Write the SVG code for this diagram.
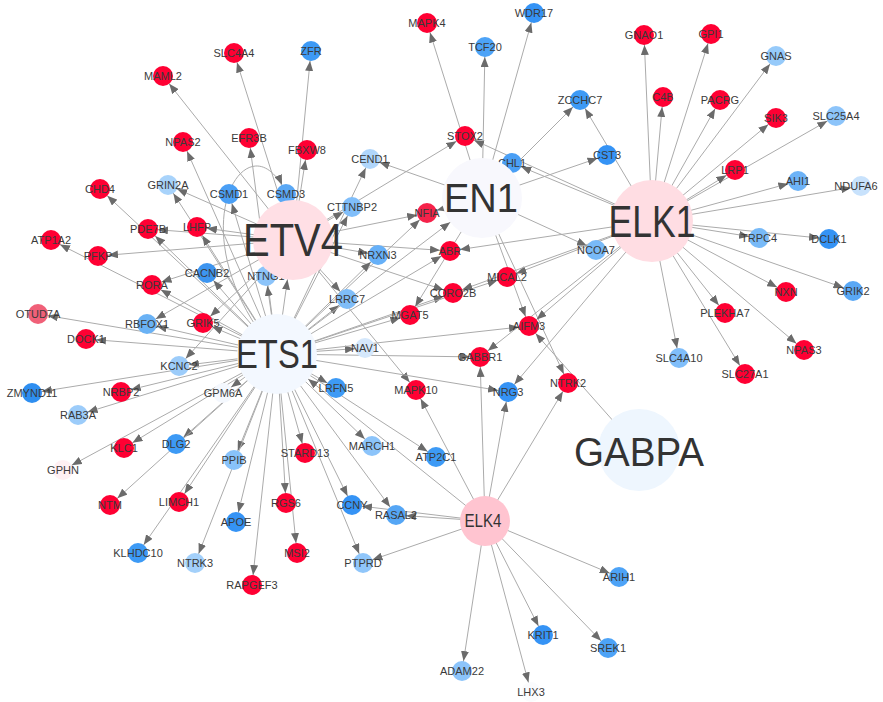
<svg xmlns="http://www.w3.org/2000/svg" width="883" height="702" viewBox="0 0 883 702">
<style>
.e{stroke:#ababab;stroke-width:1;fill:none;marker-end:url(#a)}
.eh{stroke:#ababab;stroke-width:1;fill:none;marker-end:url(#ah)}
.r{fill:#ff0033}
text{font-family:"Liberation Sans",Arial,sans-serif;fill:#3a3a3a;text-anchor:middle;dominant-baseline:central}
.l{font-size:11px}
.h{fill:#333}
</style>
<defs>
<marker id="a" markerUnits="userSpaceOnUse" markerWidth="10" markerHeight="8" refX="20" refY="4" orient="auto"><path d="M0,0 L10,4 L0,8 Z" fill="#6b6b6b"/></marker>
<marker id="ah" markerUnits="userSpaceOnUse" markerWidth="10" markerHeight="8" refX="50" refY="4" orient="auto"><path d="M0,0 L10,4 L0,8 Z" fill="#6b6b6b"/></marker>
</defs>
<rect width="883" height="702" fill="#fff"/>
<g id="edges">
<!-- ETV4 -->
<line class="e" x1="293" y1="240" x2="163" y2="76"/>
<line class="e" x1="293" y1="240" x2="234" y2="53"/>
<line class="e" x1="293" y1="240" x2="307" y2="150"/>
<line class="e" x1="293" y1="240" x2="311" y2="51"/>
<line class="e" x1="293" y1="240" x2="168" y2="185"/>
<line class="e" x1="293" y1="240" x2="197" y2="227"/>
<line class="e" x1="293" y1="240" x2="148" y2="229"/>
<line class="e" x1="293" y1="240" x2="98" y2="256"/>
<line class="e" x1="293" y1="240" x2="152" y2="285"/>
<line class="e" x1="293" y1="240" x2="147" y2="324"/>
<line class="e" x1="293" y1="240" x2="203" y2="323"/>
<line class="e" x1="293" y1="240" x2="179" y2="366"/>
<line class="e" x1="293" y1="240" x2="465" y2="136"/>
<line class="e" x1="293" y1="240" x2="352" y2="207"/>
<line class="e" x1="293" y1="240" x2="427" y2="213"/>
<line class="e" x1="293" y1="240" x2="378" y2="255"/>
<line class="e" x1="293" y1="240" x2="450" y2="251"/>
<line class="e" x1="293" y1="240" x2="453" y2="293"/>
<line class="e" x1="293" y1="240" x2="347" y2="299"/>
<line class="e" x1="293" y1="240" x2="416" y2="390"/>
<!-- ETS1 -->
<line class="e" x1="277" y1="354" x2="183" y2="142"/>
<line class="e" x1="277" y1="354" x2="249" y2="138"/>
<line class="e" x1="277" y1="354" x2="100" y2="189"/>
<line class="e" x1="277" y1="354" x2="168" y2="185"/>
<line class="e" x1="277" y1="354" x2="229" y2="194"/>
<line class="e" x1="277" y1="354" x2="197" y2="227"/>
<line class="e" x1="277" y1="354" x2="148" y2="229"/>
<line class="e" x1="277" y1="354" x2="51" y2="240"/>
<line class="e" x1="277" y1="354" x2="152" y2="285"/>
<line class="e" x1="277" y1="354" x2="207" y2="273"/>
<line class="e" x1="277" y1="354" x2="147" y2="324"/>
<line class="e" x1="277" y1="354" x2="203" y2="323"/>
<line class="e" x1="277" y1="354" x2="38" y2="314"/>
<line class="e" x1="277" y1="354" x2="86" y2="339"/>
<line class="e" x1="277" y1="354" x2="266" y2="276"/>
<line class="e" x1="277" y1="354" x2="179" y2="366"/>
<line class="e" x1="277" y1="354" x2="32" y2="393"/>
<line class="e" x1="277" y1="354" x2="121" y2="392"/>
<line class="e" x1="277" y1="354" x2="78" y2="415"/>
<line class="e" x1="277" y1="354" x2="223" y2="393"/>
<line class="e" x1="277" y1="354" x2="63" y2="470"/>
<line class="e" x1="277" y1="354" x2="124" y2="448"/>
<line class="e" x1="277" y1="354" x2="176" y2="444"/>
<line class="e" x1="277" y1="354" x2="110" y2="505"/>
<line class="e" x1="277" y1="354" x2="179" y2="502"/>
<line class="e" x1="277" y1="354" x2="234" y2="460"/>
<line class="e" x1="277" y1="354" x2="236" y2="522"/>
<line class="e" x1="277" y1="354" x2="286" y2="503"/>
<line class="e" x1="277" y1="354" x2="305" y2="453"/>
<line class="e" x1="277" y1="354" x2="138" y2="553"/>
<line class="e" x1="277" y1="354" x2="195" y2="563"/>
<line class="e" x1="277" y1="354" x2="252" y2="585"/>
<line class="e" x1="277" y1="354" x2="297" y2="553"/>
<line class="e" x1="277" y1="354" x2="336" y2="388"/>
<line class="e" x1="277" y1="354" x2="365" y2="348"/>
<line class="e" x1="277" y1="354" x2="480" y2="357"/>
<line class="e" x1="277" y1="354" x2="508" y2="392"/>
<line class="e" x1="277" y1="354" x2="372" y2="446"/>
<line class="e" x1="277" y1="354" x2="436" y2="457"/>
<line class="e" x1="277" y1="354" x2="352" y2="505"/>
<line class="e" x1="277" y1="354" x2="396" y2="515"/>
<line class="e" x1="277" y1="354" x2="363" y2="563"/>
<line class="e" x1="277" y1="354" x2="410" y2="315"/>
<line class="e" x1="277" y1="354" x2="453" y2="293"/>
<line class="e" x1="277" y1="354" x2="507" y2="277"/>
<line class="e" x1="277" y1="354" x2="529" y2="326"/>
<line class="e" x1="277" y1="354" x2="450" y2="251"/>
<line class="e" x1="277" y1="354" x2="427" y2="213"/>
<line class="e" x1="277" y1="354" x2="378" y2="255"/>
<line class="e" x1="277" y1="354" x2="352" y2="207"/>
<line class="e" x1="277" y1="354" x2="347" y2="299"/>
<line class="e" x1="277" y1="354" x2="370" y2="159"/>
<line class="eh" x1="277" y1="354" x2="293" y2="240"/>
<line class="eh" x1="277" y1="354" x2="482" y2="198"/>
<path class="e" d="M277,354 C170,230 250,110 286,194"/>
<!-- EN1 -->
<line class="e" x1="482" y1="198" x2="427" y2="23"/>
<line class="e" x1="482" y1="198" x2="485" y2="47"/>
<line class="e" x1="482" y1="198" x2="534" y2="13"/>
<line class="e" x1="482" y1="198" x2="580" y2="100"/>
<line class="e" x1="482" y1="198" x2="607" y2="155"/>
<line class="e" x1="482" y1="198" x2="370" y2="159"/>
<line class="e" x1="482" y1="198" x2="427" y2="213"/>
<line class="e" x1="482" y1="198" x2="410" y2="315"/>
<line class="e" x1="482" y1="198" x2="529" y2="326"/>
<line class="e" x1="482" y1="198" x2="568" y2="383"/>
<line class="e" x1="482" y1="198" x2="596" y2="250"/>
<!-- ELK1 -->
<line class="e" x1="652" y1="221" x2="580" y2="100"/>
<line class="e" x1="652" y1="221" x2="512" y2="163"/>
<line class="e" x1="652" y1="221" x2="465" y2="136"/>
<line class="e" x1="652" y1="221" x2="644" y2="35"/>
<line class="e" x1="652" y1="221" x2="663" y2="97"/>
<line class="e" x1="652" y1="221" x2="711" y2="34"/>
<line class="e" x1="652" y1="221" x2="720" y2="100"/>
<line class="e" x1="652" y1="221" x2="776" y2="56"/>
<line class="e" x1="652" y1="221" x2="776" y2="118"/>
<line class="e" x1="652" y1="221" x2="836" y2="116"/>
<line class="e" x1="652" y1="221" x2="735" y2="170"/>
<line class="e" x1="652" y1="221" x2="798" y2="181"/>
<line class="e" x1="652" y1="221" x2="861" y2="186"/>
<line class="e" x1="652" y1="221" x2="759" y2="238"/>
<line class="e" x1="652" y1="221" x2="829" y2="239"/>
<line class="e" x1="652" y1="221" x2="853" y2="291"/>
<line class="e" x1="652" y1="221" x2="786" y2="292"/>
<line class="e" x1="652" y1="221" x2="725" y2="313"/>
<line class="e" x1="652" y1="221" x2="804" y2="350"/>
<line class="e" x1="652" y1="221" x2="745" y2="374"/>
<line class="e" x1="652" y1="221" x2="679" y2="358"/>
<line class="e" x1="652" y1="221" x2="450" y2="251"/>
<line class="e" x1="652" y1="221" x2="507" y2="277"/>
<line class="e" x1="652" y1="221" x2="453" y2="293"/>
<line class="e" x1="652" y1="221" x2="529" y2="326"/>
<line class="e" x1="652" y1="221" x2="480" y2="357"/>
<line class="e" x1="652" y1="221" x2="508" y2="392"/>
<!-- ELK4 -->
<line class="e" x1="485" y1="521" x2="480" y2="357"/>
<line class="e" x1="485" y1="521" x2="508" y2="392"/>
<line class="e" x1="485" y1="521" x2="568" y2="383"/>
<line class="e" x1="485" y1="521" x2="416" y2="390"/>
<line class="e" x1="485" y1="521" x2="352" y2="505"/>
<line class="e" x1="485" y1="521" x2="396" y2="515"/>
<line class="e" x1="485" y1="521" x2="363" y2="563"/>
<line class="e" x1="485" y1="521" x2="462" y2="671"/>
<line class="e" x1="485" y1="521" x2="531" y2="692"/>
<line class="e" x1="485" y1="521" x2="543" y2="635"/>
<line class="e" x1="485" y1="521" x2="608" y2="648"/>
<line class="e" x1="485" y1="521" x2="619" y2="577"/>
<line class="eh" x1="485" y1="521" x2="277" y2="354"/>
<!-- GABPA -->
<line class="e" x1="639" y1="450" x2="529" y2="326"/>
</g>
<g id="nodes">
<g id="n-SLC4A4"><circle class="r" cx="234" cy="53" r="10"/><text class="l" x="234" y="53">SLC4A4</text></g>
<g id="n-MAML2"><circle class="r" cx="163" cy="76" r="10"/><text class="l" x="163" y="76">MAML2</text></g>
<g id="n-NPAS2"><circle class="r" cx="183" cy="142" r="10"/><text class="l" x="183" y="142">NPAS2</text></g>
<g id="n-EFR3B"><circle class="r" cx="249" cy="138" r="10"/><text class="l" x="249" y="138">EFR3B</text></g>
<g id="n-ZFR"><circle fill="#3d9af5" cx="311" cy="51" r="10"/><text class="l" x="311" y="51">ZFR</text></g>
<g id="n-FBXW8"><circle class="r" cx="307" cy="150" r="10"/><text class="l" x="307" y="150">FBXW8</text></g>
<g id="n-MAPK4"><circle class="r" cx="427" cy="23" r="10"/><text class="l" x="427" y="23">MAPK4</text></g>
<g id="n-WDR17"><circle fill="#3593f5" cx="534" cy="13" r="10"/><text class="l" x="534" y="13">WDR17</text></g>
<g id="n-TCF20"><circle fill="#4da3f7" cx="485" cy="47" r="10"/><text class="l" x="485" y="47">TCF20</text></g>
<g id="n-ZCCHC7"><circle fill="#3d9af5" cx="580" cy="100" r="10"/><text class="l" x="580" y="100">ZCCHC7</text></g>
<g id="n-STOX2"><circle class="r" cx="465" cy="136" r="10"/><text class="l" x="465" y="136">STOX2</text></g>
<g id="n-CEND1"><circle fill="#b0d6fb" cx="370" cy="159" r="10"/><text class="l" x="370" y="159">CEND1</text></g>
<g id="n-CHL1"><circle fill="#4a9ff5" cx="512" cy="163" r="10"/><text class="l" x="512" y="163">CHL1</text></g>
<g id="n-GNAO1"><circle class="r" cx="644" cy="35" r="10"/><text class="l" x="644" y="35">GNAO1</text></g>
<g id="n-GPI1"><circle class="r" cx="711" cy="34" r="10"/><text class="l" x="711" y="34">GPI1</text></g>
<g id="n-GNAS"><circle fill="#96cafa" cx="776" cy="56" r="10"/><text class="l" x="776" y="56">GNAS</text></g>
<g id="n-C4B"><circle class="r" cx="663" cy="97" r="10"/><text class="l" x="663" y="97">C4B</text></g>
<g id="n-PACRG"><circle class="r" cx="720" cy="100" r="10"/><text class="l" x="720" y="100">PACRG</text></g>
<g id="n-SIK3"><circle class="r" cx="776" cy="118" r="10"/><text class="l" x="776" y="118">SIK3</text></g>
<g id="n-SLC25A4"><circle fill="#8cc4fa" cx="836" cy="116" r="10"/><text class="l" x="836" y="116">SLC25A4</text></g>
<g id="n-CST3"><circle fill="#3593f5" cx="607" cy="155" r="10"/><text class="l" x="607" y="155">CST3</text></g>
<g id="n-LRP1"><circle class="r" cx="735" cy="170" r="10"/><text class="l" x="735" y="170">LRP1</text></g>
<g id="n-AHI1"><circle fill="#6db3f8" cx="798" cy="181" r="10"/><text class="l" x="798" y="181">AHI1</text></g>
<g id="n-NDUFA6"><circle fill="#c8e2fc" cx="861" cy="186" r="10"/><text class="l" x="856" y="186">NDUFA6</text></g>
<g id="n-TRPC4"><circle fill="#78baf8" cx="759" cy="238" r="10"/><text class="l" x="759" y="238">TRPC4</text></g>
<g id="n-DCLK1"><circle fill="#3593f5" cx="829" cy="239" r="10"/><text class="l" x="829" y="239">DCLK1</text></g>
<g id="n-NCOA7"><circle fill="#78baf8" cx="596" cy="250" r="10"/><text class="l" x="596" y="250">NCOA7</text></g>
<g id="n-GRIK2"><circle fill="#5aa8f5" cx="853" cy="291" r="10"/><text class="l" x="853" y="291">GRIK2</text></g>
<g id="n-NXN"><circle class="r" cx="786" cy="292" r="10"/><text class="l" x="786" y="292">NXN</text></g>
<g id="n-PLEKHA7"><circle class="r" cx="725" cy="313" r="10"/><text class="l" x="725" y="313">PLEKHA7</text></g>
<g id="n-NPAS3"><circle class="r" cx="804" cy="350" r="10"/><text class="l" x="804" y="350">NPAS3</text></g>
<g id="n-SLC4A10"><circle fill="#80befa" cx="679" cy="358" r="10"/><text class="l" x="679" y="358">SLC4A10</text></g>
<g id="n-SLC27A1"><circle class="r" cx="745" cy="374" r="10"/><text class="l" x="745" y="374">SLC27A1</text></g>
<g id="n-CHD4"><circle class="r" cx="100" cy="189" r="10"/><text class="l" x="100" y="189">CHD4</text></g>
<g id="n-GRIN2A"><circle fill="#a8d3fb" cx="168" cy="185" r="10"/><text class="l" x="168" y="185">GRIN2A</text></g>
<g id="n-CSMD1"><circle fill="#4a9ff5" cx="229" cy="194" r="10"/><text class="l" x="229" y="194">CSMD1</text></g>
<g id="n-CSMD3"><circle fill="#5aa8f5" cx="286" cy="194" r="10"/><text class="l" x="286" y="194">CSMD3</text></g>
<g id="n-PDE7B"><circle class="r" cx="148" cy="229" r="10"/><text class="l" x="148" y="229">PDE7B</text></g>
<g id="n-LHFP"><circle class="r" cx="197" cy="227" r="10"/><text class="l" x="197" y="227">LHFP</text></g>
<g id="n-ATP1A2"><circle class="r" cx="51" cy="240" r="10"/><text class="l" x="51" y="240">ATP1A2</text></g>
<g id="n-PFKP"><circle class="r" cx="98" cy="256" r="10"/><text class="l" x="98" y="256">PFKP</text></g>
<g id="n-CACNB2"><circle fill="#3d95f0" cx="207" cy="273" r="10"/><text class="l" x="207" y="273">CACNB2</text></g>
<g id="n-NTNG1"><circle fill="#8cc4fa" cx="266" cy="276" r="10"/><text class="l" x="266" y="276">NTNG1</text></g>
<g id="n-RORA"><circle class="r" cx="152" cy="285" r="10"/><text class="l" x="152" y="285">RORA</text></g>
<g id="n-OTUD7A"><circle fill="#f06078" cx="38" cy="314" r="10"/><text class="l" x="38" y="314">OTUD7A</text></g>
<g id="n-RBFOX1"><circle fill="#6ab2f5" cx="147" cy="324" r="10"/><text class="l" x="147" y="324">RBFOX1</text></g>
<g id="n-GRIK5"><circle class="r" cx="203" cy="323" r="10"/><text class="l" x="203" y="323">GRIK5</text></g>
<g id="n-DOCK1"><circle class="r" cx="86" cy="339" r="10"/><text class="l" x="86" y="339">DOCK1</text></g>
<g id="n-CTTNBP2"><circle fill="#80befa" cx="352" cy="207" r="10"/><text class="l" x="352" y="207">CTTNBP2</text></g>
<g id="n-NFIA"><circle fill="#f5224a" cx="427" cy="213" r="10"/><text class="l" x="427" y="213">NFIA</text></g>
<g id="n-ABR"><circle class="r" cx="450" cy="251" r="10"/><text class="l" x="450" y="251">ABR</text></g>
<g id="n-NRXN3"><circle fill="#66b0f8" cx="378" cy="255" r="10"/><text class="l" x="378" y="255">NRXN3</text></g>
<g id="n-MICAL2"><circle class="r" cx="507" cy="277" r="10"/><text class="l" x="507" y="277">MICAL2</text></g>
<g id="n-CORO2B"><circle class="r" cx="453" cy="293" r="10"/><text class="l" x="453" y="293">CORO2B</text></g>
<g id="n-LRRC7"><circle fill="#7fbdf8" cx="347" cy="299" r="10"/><text class="l" x="347" y="299">LRRC7</text></g>
<g id="n-MGAT5"><circle class="r" cx="410" cy="315" r="10"/><text class="l" x="410" y="315">MGAT5</text></g>
<g id="n-AIFM3"><circle class="r" cx="529" cy="326" r="10"/><text class="l" x="529" y="326">AIFM3</text></g>
<g id="n-NAV1"><circle fill="#d5e8fc" cx="365" cy="348" r="10"/><text class="l" x="365" y="348">NAV1</text></g>
<g id="n-GABBR1"><circle class="r" cx="480" cy="357" r="10"/><text class="l" x="480" y="357">GABBR1</text></g>
<g id="n-NRG3"><circle fill="#3593f5" cx="508" cy="392" r="10"/><text class="l" x="508" y="392">NRG3</text></g>
<g id="n-NTRK2"><circle class="r" cx="568" cy="383" r="10"/><text class="l" x="568" y="383">NTRK2</text></g>
<g id="n-LRFN5"><circle fill="#3d9af5" cx="336" cy="388" r="10"/><text class="l" x="336" y="388">LRFN5</text></g>
<g id="n-MAPK10"><circle class="r" cx="416" cy="390" r="10"/><text class="l" x="416" y="390">MAPK10</text></g>
<g id="n-MARCH1"><circle fill="#8cc4fa" cx="372" cy="446" r="10"/><text class="l" x="372" y="446">MARCH1</text></g>
<g id="n-ATP2C1"><circle fill="#3d9af5" cx="436" cy="457" r="10"/><text class="l" x="436" y="457">ATP2C1</text></g>
<g id="n-STARD13"><circle class="r" cx="305" cy="453" r="10"/><text class="l" x="305" y="453">STARD13</text></g>
<g id="n-CCNY"><circle fill="#3593f5" cx="352" cy="505" r="10"/><text class="l" x="352" y="505">CCNY</text></g>
<g id="n-RASAL2"><circle fill="#55a6f5" cx="396" cy="515" r="10"/><text class="l" x="396" y="515">RASAL2</text></g>
<g id="n-KCNC2"><circle fill="#9cccfa" cx="179" cy="366" r="10"/><text class="l" x="179" y="366">KCNC2</text></g>
<g id="n-ZMYND11"><circle fill="#2e8ef0" cx="32" cy="393" r="10"/><text class="l" x="32" y="393">ZMYND11</text></g>
<g id="n-NRBP2"><circle class="r" cx="121" cy="392" r="10"/><text class="l" x="121" y="392">NRBP2</text></g>
<g id="n-GPM6A"><circle fill="#f4f8fe" cx="223" cy="393" r="10"/><text class="l" x="223" y="393">GPM6A</text></g>
<g id="n-RAB3A"><circle fill="#9cccfa" cx="78" cy="415" r="10"/><text class="l" x="78" y="415">RAB3A</text></g>
<g id="n-KLC1"><circle class="r" cx="124" cy="448" r="10"/><text class="l" x="124" y="448">KLC1</text></g>
<g id="n-DLG2"><circle fill="#3d9af5" cx="176" cy="444" r="10"/><text class="l" x="176" y="444">DLG2</text></g>
<g id="n-GPHN"><circle fill="#fff0f3" cx="63" cy="470" r="10"/><text class="l" x="63" y="470">GPHN</text></g>
<g id="n-PPIB"><circle fill="#88c2fa" cx="234" cy="460" r="10"/><text class="l" x="234" y="460">PPIB</text></g>
<g id="n-NTM"><circle class="r" cx="110" cy="505" r="10"/><text class="l" x="110" y="505">NTM</text></g>
<g id="n-LIMCH1"><circle class="r" cx="179" cy="502" r="10"/><text class="l" x="179" y="502">LIMCH1</text></g>
<g id="n-RGS6"><circle class="r" cx="286" cy="503" r="10"/><text class="l" x="286" y="503">RGS6</text></g>
<g id="n-APOE"><circle fill="#3593f5" cx="236" cy="522" r="10"/><text class="l" x="236" y="522">APOE</text></g>
<g id="n-KLHDC10"><circle fill="#3d9af5" cx="138" cy="553" r="10"/><text class="l" x="138" y="553">KLHDC10</text></g>
<g id="n-NTRK3"><circle fill="#a3d0fa" cx="195" cy="563" r="10"/><text class="l" x="195" y="563">NTRK3</text></g>
<g id="n-RAPGEF3"><circle class="r" cx="252" cy="585" r="10"/><text class="l" x="252" y="585">RAPGEF3</text></g>
<g id="n-MSI2"><circle class="r" cx="297" cy="553" r="10"/><text class="l" x="297" y="553">MSI2</text></g>
<g id="n-PTPRD"><circle fill="#90c6fa" cx="363" cy="563" r="10"/><text class="l" x="363" y="563">PTPRD</text></g>
<g id="n-ADAM22"><circle fill="#8cc4fa" cx="462" cy="671" r="10"/><text class="l" x="462" y="671">ADAM22</text></g>
<g id="n-KRIT1"><circle fill="#3593f5" cx="543" cy="635" r="10"/><text class="l" x="543" y="635">KRIT1</text></g>
<g id="n-LHX3"><circle fill="#fafbfd" cx="531" cy="692" r="10"/><text class="l" x="531" y="692">LHX3</text></g>
<g id="n-ARIH1"><circle fill="#4da3f7" cx="619" cy="577" r="10"/><text class="l" x="619" y="577">ARIH1</text></g>
<g id="n-SREK1"><circle fill="#4da3f7" cx="608" cy="648" r="10"/><text class="l" x="608" y="648">SREK1</text></g>
<g id="n-ETV4"><circle fill="#ffdfe5" cx="293" cy="240" r="40"/><text class="h" x="293" y="240" font-size="46" textLength="100" lengthAdjust="spacingAndGlyphs">ETV4</text></g>
<g id="n-EN1"><circle fill="#f8f8fd" cx="482" cy="198" r="40"/><text class="h" x="481" y="198" font-size="40" textLength="74" lengthAdjust="spacingAndGlyphs">EN1</text></g>
<g id="n-ELK1"><circle fill="#ffdde3" cx="652" cy="221" r="41"/><text class="h" x="652" y="221" font-size="44" textLength="87" lengthAdjust="spacingAndGlyphs">ELK1</text></g>
<g id="n-ETS1"><circle fill="#f3f8ff" cx="277" cy="354" r="40"/><text class="h" x="277" y="354" font-size="40" textLength="82" lengthAdjust="spacingAndGlyphs">ETS1</text></g>
<g id="n-GABPA"><circle fill="#eef6fe" cx="639" cy="450" r="41"/><text class="h" x="639" y="452" font-size="41" textLength="130" lengthAdjust="spacingAndGlyphs">GABPA</text></g>
<g id="n-ELK4"><circle fill="#ffc4d0" cx="485" cy="521" r="25"/><text class="h" x="483" y="521" font-size="18" textLength="37" lengthAdjust="spacingAndGlyphs">ELK4</text></g>
</g>
</svg>
